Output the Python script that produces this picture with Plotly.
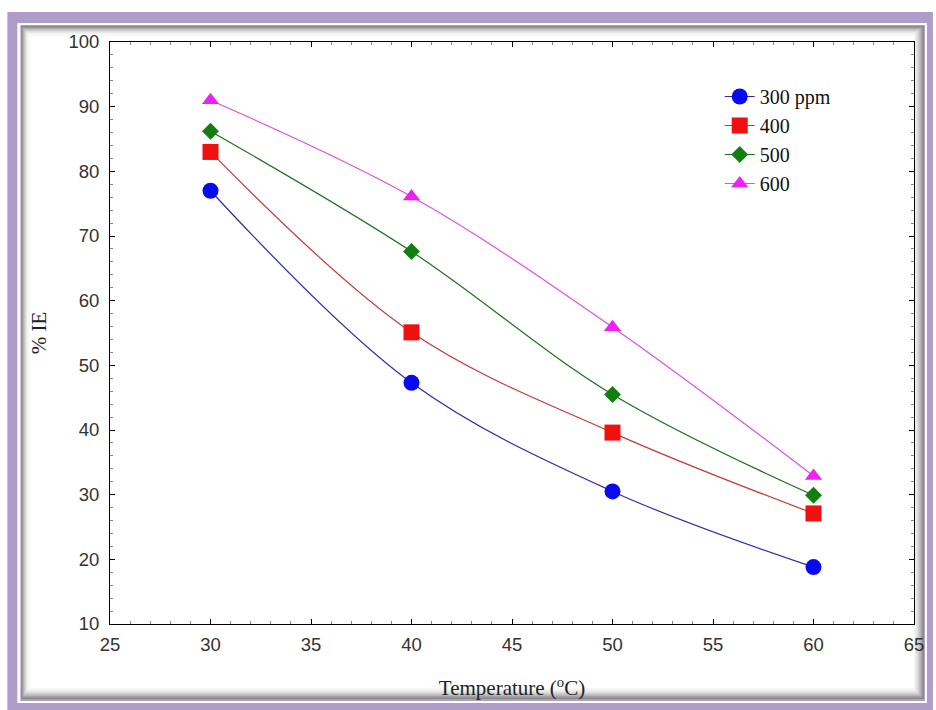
import plotly.graph_objects as go

temps = [30, 40, 50, 60]
ie_300 = [77.0, 47.3, 30.5, 18.8]
ie_400 = [83.0, 55.1, 39.6, 27.1]
ie_500 = [86.2, 67.6, 45.5, 29.9]
ie_600 = [91.0, 76.1, 55.9, 32.9]

series = [
    ("300 ppm", ie_300, "#2a2ab0", "#0a0af0", "circle", 16),
    ("400", ie_400, "#c83838", "#f01010", "square", 16),
    ("500", ie_500, "#1f6e1f", "#118011", "diamond", 13),
    ("600", ie_600, "#e050e0", "#f020f0", "triangle-up", 15),
]

fig = go.Figure()
for name, ys, lc, mc, sym, sz in series:
    fig.add_trace(go.Scatter(
        x=temps, y=ys, name=name, mode="lines+markers",
        line=dict(color=lc, width=1.2, shape="spline", smoothing=1.0),
        marker=dict(color=mc, symbol=sym, size=sz, line=dict(width=0)),
    ))

W, H = 936, 710
L, R, T, B = 110, 19, 42, 86
pw, ph = W - L - R, H - T - B


def px(x):
    return (x - L) / pw


def py(y):
    return (H - B - y) / ph


shapes = []


def rect(x0, y0, x1, y1, color):
    shapes.append(dict(type="rect", xref="paper", yref="paper", layer="below",
                       x0=px(x0), x1=px(x1), y0=py(y1), y1=py(y0),
                       fillcolor=color, line=dict(width=0)))


purple = "#ae9dca"
rect(7, 12, 936, 710, purple)
rect(17, 23, 930, 703, "#ffffff")
rect(20, 25, 928, 701, purple)
# shadow panel
rect(21, 26, 927, 699, "#8a8a8a")
grays = ["#9a9a9a", "#adadad", "#bfbfbf", "#cfcfcf", "#dddddd", "#e8e8e8", "#f1f1f1", "#f8f8f8"]
for i, g in enumerate(grays):
    rect(21 + i * 0.8 + 0.8, 26 + i + 1, 927 - (i + 1) * 1.2, 699 - (i + 1) * 1.2, g)
rect(30, 36, 917, 688, "#ffffff")

axis_font = dict(family="Liberation Sans, Arial, sans-serif", size=18.5, color="#333333")
title_font = dict(family="Liberation Serif, Times New Roman, serif", size=21, color="#222222")

fig.update_layout(
    width=W, height=H,
    margin=dict(l=L, r=R, t=T, b=B),
    paper_bgcolor="#ffffff",
    plot_bgcolor="#ffffff",
    shapes=shapes,
    showlegend=True,
    legend=dict(x=px(722), y=py(77), xanchor="left", yanchor="top",
                bgcolor="rgba(0,0,0,0)", tracegroupgap=0, itemsizing="trace",
                font=dict(family="Liberation Serif, Times New Roman, serif", size=20, color="#111111")),
    xaxis=dict(range=[25, 65], dtick=5, tick0=25, showgrid=False, zeroline=False,
               showline=True, linecolor="#000000", linewidth=1, mirror="ticks",
               ticks="inside", ticklen=5, tickcolor="#000000", tickfont=axis_font,
               ticklabelstandoff=4,
               minor=dict(dtick=1, ticks="inside", ticklen=3, tickcolor="#888888"),
               title=dict(text="Temperature (<sup>o</sup>C)", font=title_font, standoff=26)),
    yaxis=dict(range=[10, 100], dtick=10, tick0=10, showgrid=False, zeroline=False,
               showline=True, linecolor="#000000", linewidth=1, mirror="ticks",
               ticks="inside", ticklen=5, tickcolor="#000000", tickfont=axis_font,
               ticklabelstandoff=6,
               minor=dict(dtick=2, ticks="inside", ticklen=3, tickcolor="#888888"),
               title=dict(text="% IE", font=title_font, standoff=16)),
)

fig.write_html("out.html")
